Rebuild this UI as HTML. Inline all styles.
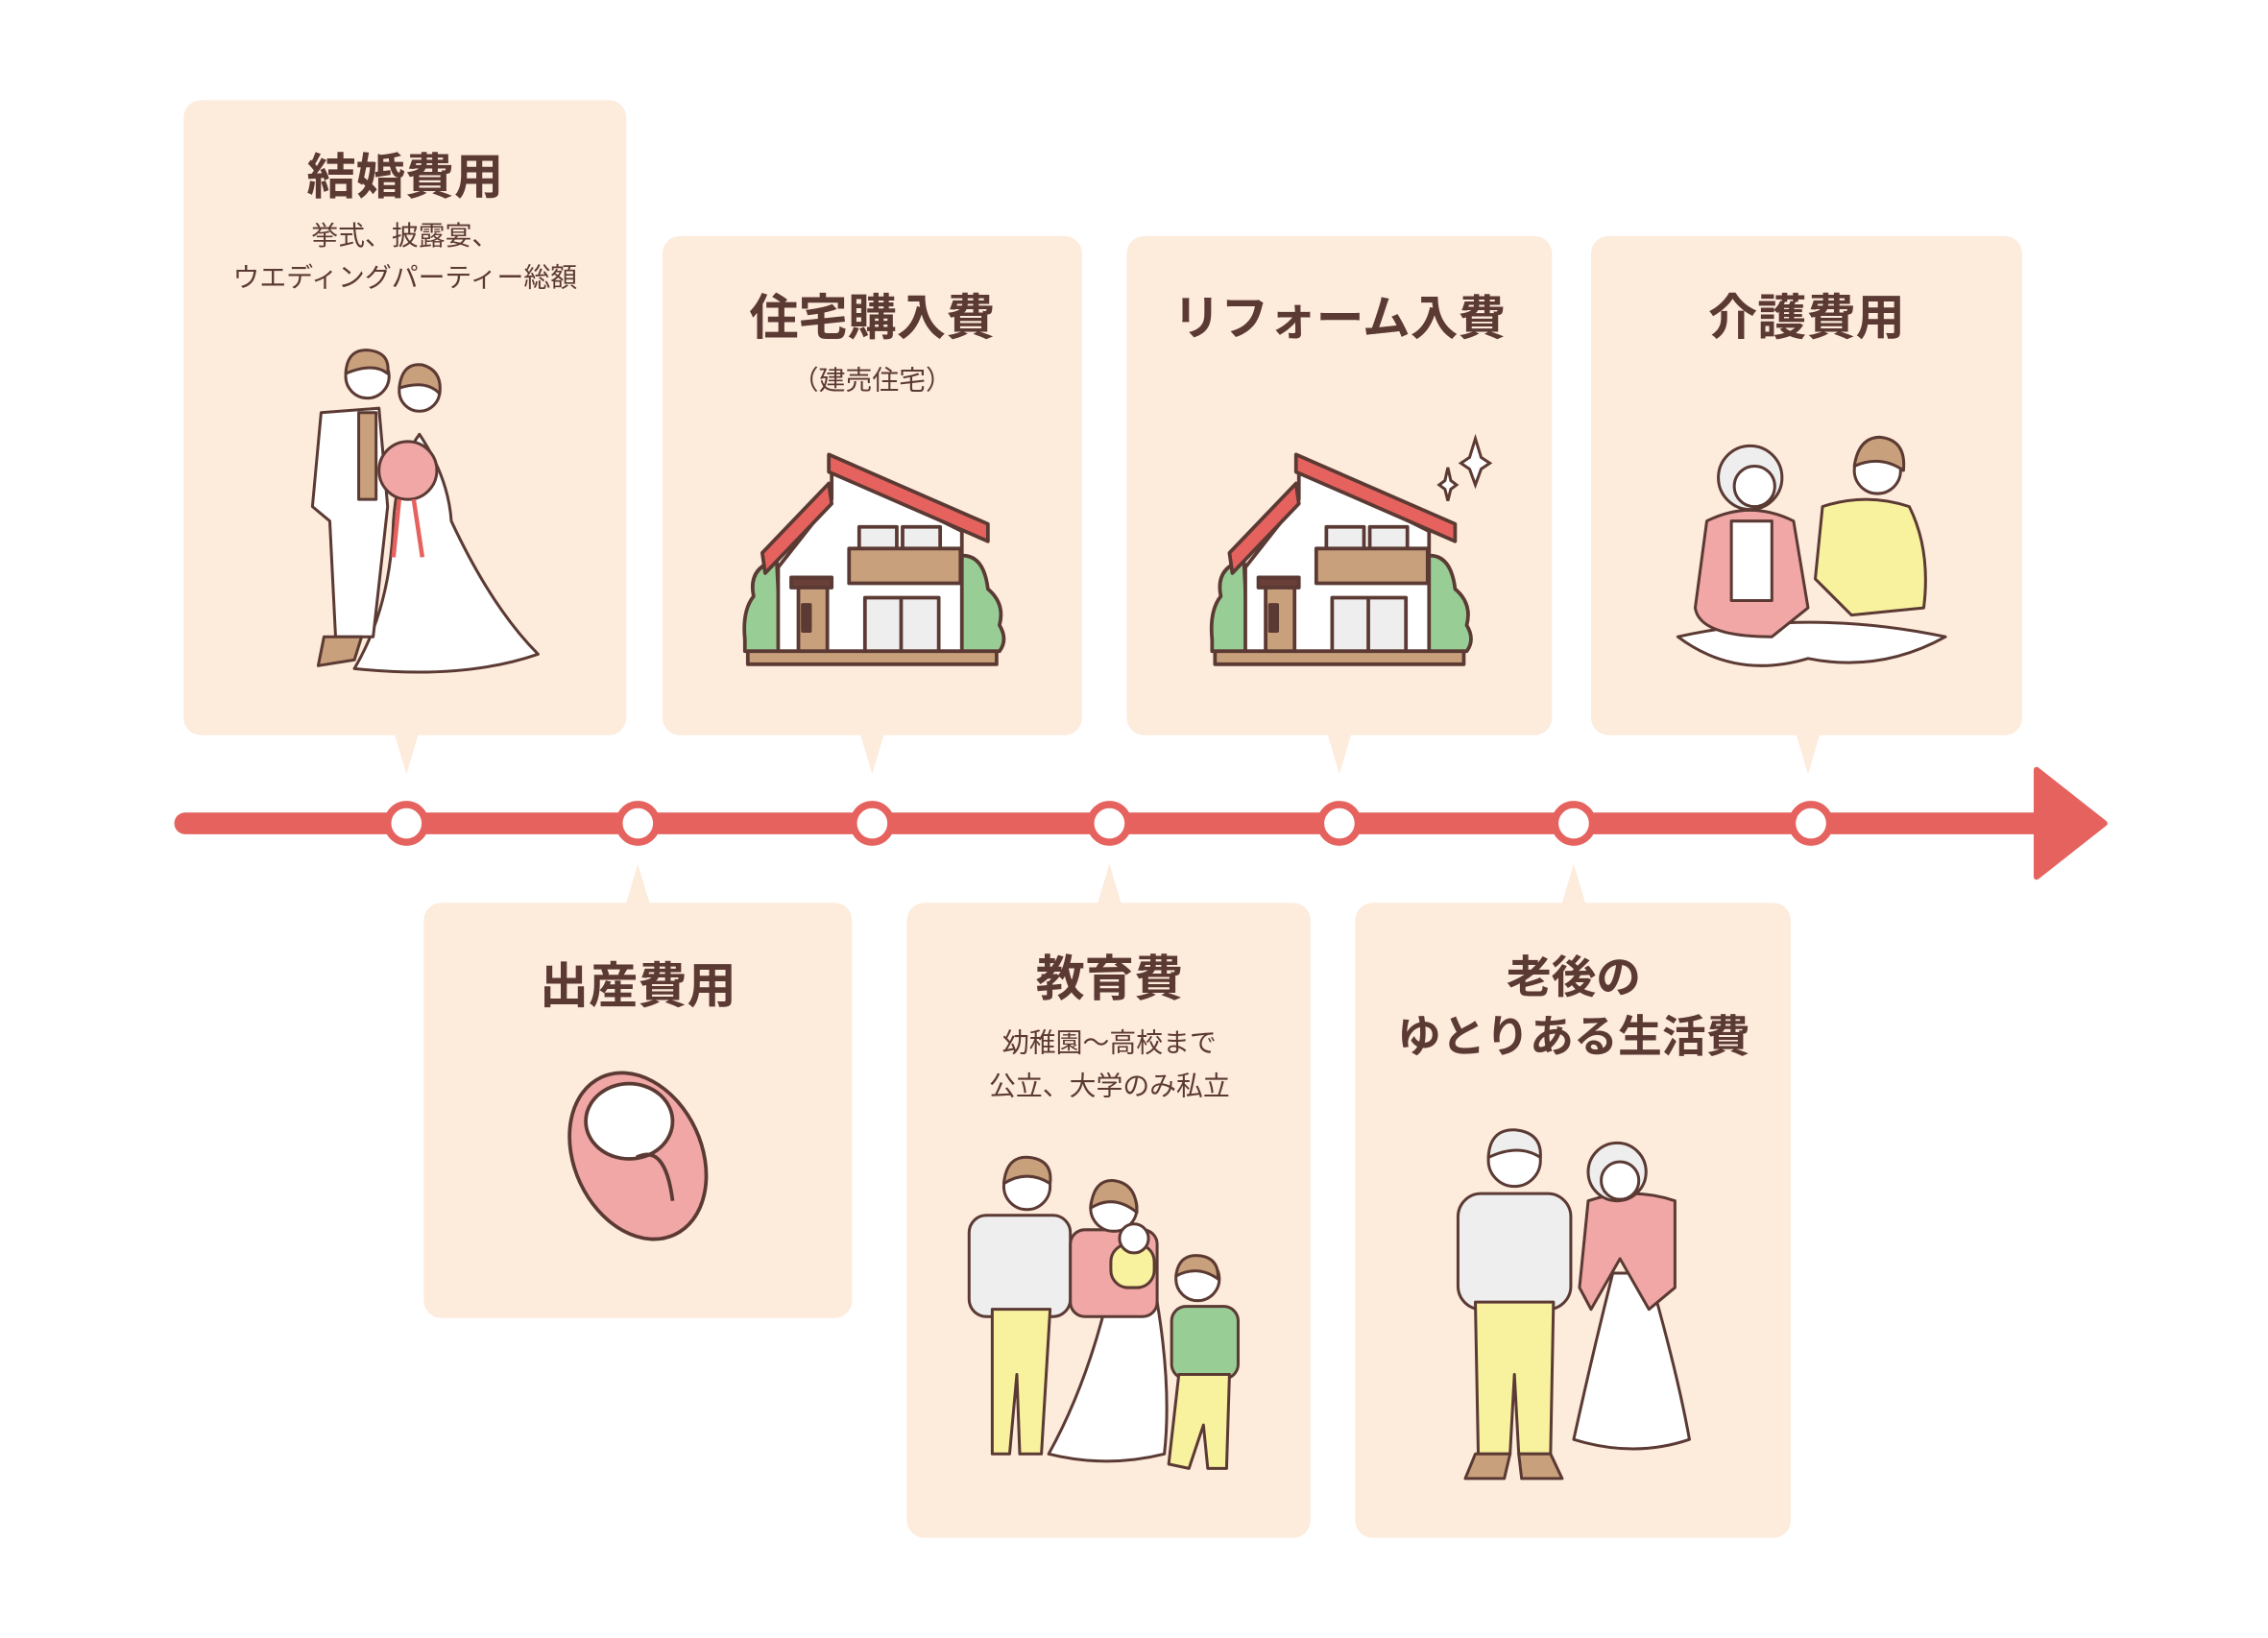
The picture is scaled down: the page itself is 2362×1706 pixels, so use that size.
<!DOCTYPE html>
<html><head><meta charset="utf-8"><style>
html,body{margin:0;padding:0;background:#fff}
svg{display:block}
text{font-family:"Liberation Sans","Noto Sans CJK JP",sans-serif;fill:#5b3a34;text-anchor:middle}
.t{font-size:34px;font-weight:700}
.s{font-size:18.5px}
</style></head><body>
<svg width="2362" height="1706" viewBox="0 0 1568 1132" xmlns="http://www.w3.org/2000/svg">
<defs>
<g id="house" stroke="#5b3a34" stroke-width="2.5" stroke-linejoin="round">
 <path d="M0 130 Q-2 110 6 100 Q2 80 22 75 L25 138 L0 138Z" fill="#98cd96"/>
 <path d="M148 72 Q165 70 168 95 Q180 105 176 120 Q182 130 176 138 L148 138Z" fill="#98cd96"/>
 <path d="M23 138 L23 80 L60 33 L60 10 L150 55 L150 138Z" fill="#fff"/>
 <path d="M58 22 L60 36 L14 84 L12 70 Z" fill="#e5625e"/>
 <path d="M58 2 L58 14 L168 62 L168 50 Z" fill="#e5625e"/>
 <rect x="79" y="52" width="26" height="16" fill="#eee"/>
 <rect x="109" y="52" width="26" height="16" fill="#eee"/>
 <rect x="72" y="67" width="77" height="24" fill="#c9a07c"/>
 <rect x="32" y="87" width="28" height="7" fill="#6a3f38"/>
 <rect x="37" y="94" width="20" height="44" fill="#c9a07c"/>
 <rect x="40" y="106" width="5" height="18" fill="#5b3a34"/>
 <rect x="83" y="101" width="51" height="37" fill="#eee"/>
 <line x1="108" y1="101" x2="108" y2="138"/>
 <rect x="2" y="138" width="172" height="9" fill="#c9a07c"/>
</g>
</defs>

<g fill="#fdebdc">
 <rect x="127" y="69" width="306" height="439" rx="12"/>
 <path d="M273 508 L289 508 L281 535Z"/>
 <rect x="458" y="163" width="290" height="345" rx="12"/>
 <path d="M595 508 L611 508 L603 535Z"/>
 <rect x="779" y="163" width="294" height="345" rx="12"/>
 <path d="M918 508 L934 508 L926 535Z"/>
 <rect x="1100" y="163" width="298" height="345" rx="12"/>
 <path d="M1242 508 L1258 508 L1250 535Z"/>
 <rect x="293" y="624" width="296" height="287" rx="12"/>
 <path d="M433 624 L449 624 L441 597Z"/>
 <rect x="627" y="624" width="279" height="439" rx="12"/>
 <path d="M759 624 L775 624 L767 597Z"/>
 <rect x="937" y="624" width="301" height="439" rx="12"/>
 <path d="M1080 624 L1096 624 L1088 597Z"/>
</g>

<line x1="128" y1="569" x2="1415" y2="569" stroke="#e5625e" stroke-width="15" stroke-linecap="round"/>
<path d="M1408 532 L1455 569 L1408 606Z" fill="#e5625e" stroke="#e5625e" stroke-width="4" stroke-linejoin="round"/>
<g fill="#fff" stroke="#e5625e" stroke-width="5">
 <circle cx="281" cy="569" r="13"/><circle cx="441" cy="569" r="13"/><circle cx="603" cy="569" r="13"/>
 <circle cx="767" cy="569" r="13"/><circle cx="926" cy="569" r="13"/><circle cx="1088" cy="569" r="13"/>
 <circle cx="1252" cy="569" r="13"/>
</g>

<text class="t" x="280" y="134">結婚費用</text>
<text class="s" x="280" y="169">挙式、披露宴、</text>
<text class="s" x="280" y="198">ウエディングパーティー総額</text>
<text class="t" x="603" y="231">住宅購入費</text>
<text class="s" x="603" y="269">（建売住宅）</text>
<text class="t" x="926" y="231" style="font-size:33px">リフォーム入費</text>
<text class="t" x="1249" y="231">介護費用</text>
<text class="t" x="441" y="693">出産費用</text>
<text class="t" x="767" y="688">教育費</text>
<text class="s" x="767" y="727">幼稚園～高校まで</text>
<text class="s" x="767" y="757">公立、大学のみ私立</text>
<text class="t" x="1088" y="686" style="font-size:31px">老後の</text>
<text class="t" x="1088" y="727" style="font-size:30.5px">ゆとりある生活費</text>

<use href="#house" x="515" y="312"/>
<use href="#house" x="838" y="312"/>
<g fill="#fff" stroke="#5b3a34" stroke-width="2">
 <path d="M1020 303 L1024 316 L1030 320 L1024 324 L1020 335 L1016 324 L1010 320 L1016 316Z"/>
 <path d="M1001 323 L1003 332 L1007 335 L1003 338 L1001 346 L999 338 L995 335 L999 332Z"/>
</g>

<g stroke="#5b3a34" stroke-width="2" stroke-linejoin="round">
 <path d="M290 300 Q310 330 312 360 Q340 420 372 452 Q320 470 245 462 Q270 420 272 360 Q275 320 290 300Z" fill="#fff"/>
 <path d="M222 285 L262 282 L268 350 L258 440 L232 440 L228 360 L216 350Z" fill="#fff"/>
 <rect x="248" y="285" width="12" height="60" fill="#c9a07c"/>
 <path d="M224 440 L250 440 L245 456 L220 460Z" fill="#c9a07c"/>
 <circle cx="254" cy="260" r="15" fill="#fff"/>
 <path d="M239 258 Q240 240 256 242 Q270 244 268 258 Q258 250 239 258Z" fill="#c9a07c"/>
 <circle cx="290" cy="270" r="14" fill="#fff"/>
 <path d="M276 268 Q278 250 292 252 Q306 256 304 272 Q295 262 276 268Z" fill="#c9a07c"/>
 <circle cx="282" cy="325" r="20" fill="#f0a7a6"/>
 <path d="M276 345 L272 385 M286 345 L292 385" stroke="#e5625e" stroke-width="3" fill="none"/>
</g>

<g stroke="#5b3a34" stroke-width="2" stroke-linejoin="round">
 <path d="M1160 440 Q1250 420 1345 440 Q1300 465 1250 455 Q1200 470 1160 440Z" fill="#fff"/>
 <path d="M1180 360 Q1210 345 1240 360 L1250 420 L1225 440 Q1175 440 1172 420Z" fill="#f0a7a6"/>
 <rect x="1197" y="360" width="28" height="55" fill="#fff"/>
 <circle cx="1210" cy="330" r="22" fill="#eee"/>
 <circle cx="1213" cy="336" r="14" fill="#fff"/>
 <path d="M1260 350 Q1290 340 1320 350 Q1335 380 1330 420 L1280 425 L1255 400Z" fill="#f8f19e"/>
 <circle cx="1298" cy="325" r="16" fill="#fff"/>
 <path d="M1282 322 Q1285 302 1300 302 Q1318 304 1316 325 Q1300 314 1282 322Z" fill="#c9a07c"/>
</g>

<g stroke="#5b3a34" stroke-width="2.5">
 <ellipse cx="441" cy="799" rx="44" ry="60" transform="rotate(-25 441 799)" fill="#f0a7a6"/>
 <ellipse cx="435" cy="775" rx="30" ry="26" fill="#fff"/>
 <path d="M440 800 Q460 790 465 830" fill="none"/>
</g>

<g stroke="#5b3a34" stroke-width="2" stroke-linejoin="round">
 <rect x="670" y="840" width="70" height="70" rx="12" fill="#eee"/>
 <path d="M686 905 L726 905 L720 1005 L705 1005 L703 950 L698 1005 L686 1005Z" fill="#f8f19e"/>
 <circle cx="710" cy="820" r="16" fill="#fff"/>
 <path d="M694 818 Q696 798 712 800 Q728 802 726 818 Q710 808 694 818Z" fill="#c9a07c"/>
 <path d="M765 900 L800 900 Q810 960 805 1005 Q765 1015 725 1005 Q750 960 765 900Z" fill="#fff"/>
 <rect x="740" y="850" width="60" height="60" rx="10" fill="#f0a7a6"/>
 <circle cx="770" cy="835" r="16" fill="#fff"/>
 <path d="M754 835 Q756 815 770 816 Q786 818 786 838 Q770 825 754 835Z" fill="#c9a07c"/>
 <rect x="768" y="860" width="30" height="30" rx="12" fill="#f8f19e"/>
 <circle cx="784" cy="856" r="10" fill="#fff"/>
 <rect x="810" y="903" width="46" height="50" rx="10" fill="#98cd96"/>
 <path d="M815 950 L850 950 L848 1015 L835 1015 L832 985 L822 1015 L808 1012Z" fill="#f8f19e"/>
 <circle cx="828" cy="884" r="15" fill="#fff"/>
 <path d="M813 882 Q815 866 830 868 Q843 870 842 884 Q828 874 813 882Z" fill="#c9a07c"/>
</g>

<g stroke="#5b3a34" stroke-width="2" stroke-linejoin="round">
 <rect x="1008" y="825" width="78" height="80" rx="16" fill="#eee"/>
 <path d="M1020 900 L1074 900 L1072 1005 L1050 1005 L1047 950 L1044 1005 L1022 1005Z" fill="#f8f19e"/>
 <path d="M1020 1005 L1044 1005 L1040 1022 L1013 1022Z M1050 1005 L1072 1005 L1080 1022 L1052 1022Z" fill="#c9a07c"/>
 <circle cx="1047" cy="802" r="18" fill="#fff"/>
 <path d="M1029 800 Q1030 780 1048 781 Q1066 783 1065 800 Q1050 790 1029 800Z" fill="#eee"/>
 <path d="M1115 880 L1140 880 Q1160 950 1168 995 Q1130 1008 1088 995 Q1100 940 1115 880Z" fill="#fff"/>
 <path d="M1098 830 Q1128 820 1158 830 L1158 890 L1140 905 L1120 870 L1100 905 L1092 890Z" fill="#f0a7a6"/>
 <circle cx="1118" cy="810" r="20" fill="#eee"/>
 <circle cx="1120" cy="816" r="13" fill="#fff"/>
</g>
</svg>
</body></html>
